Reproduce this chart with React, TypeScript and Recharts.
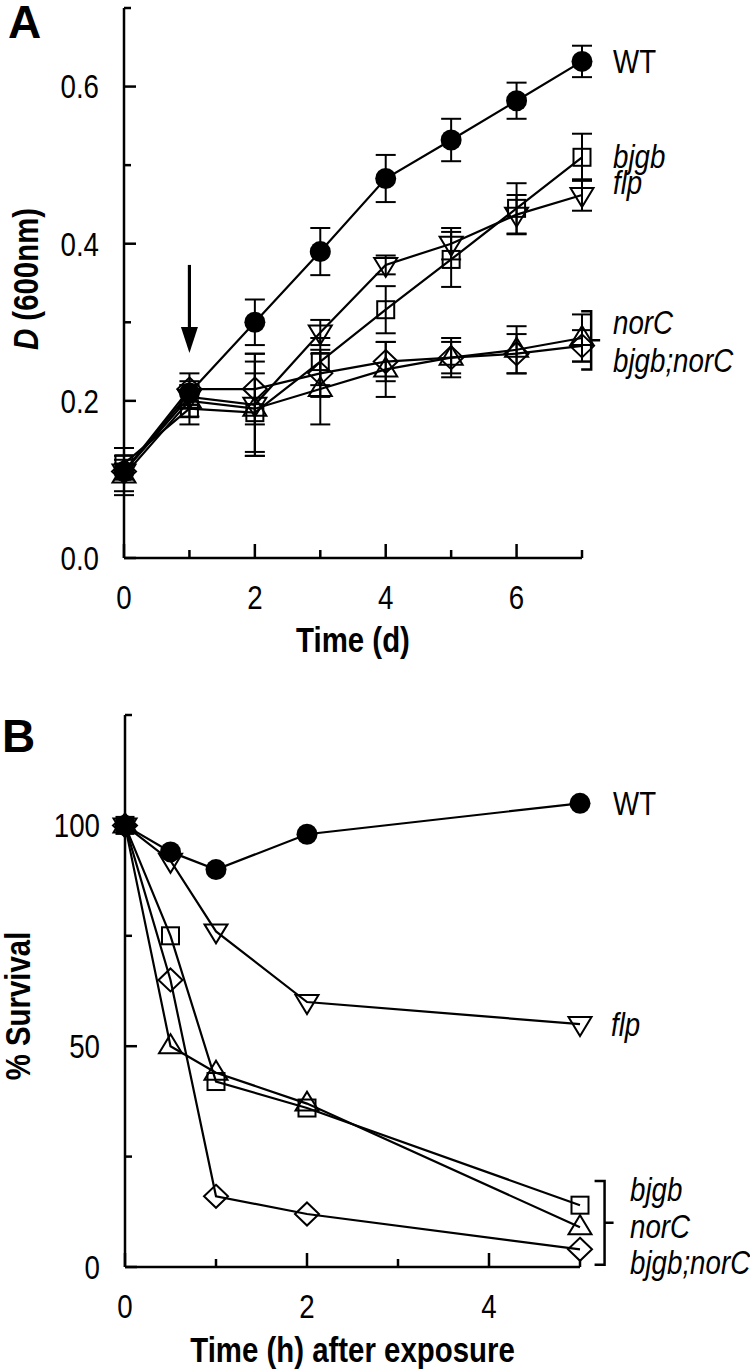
import {
  ErrorBar,
  Label,
  Line,
  LineChart,
  ReferenceDot,
  ReferenceLine,
  XAxis,
  YAxis,
} from 'recharts'

const FONT = "'Liberation Sans', Arial, sans-serif"
const INK = '#000'
const NARROW = 0.84 // the figure uses a condensed face; squeeze Liberation Sans to match

// ---- Panel A: growth, D(600nm) over days ----
const daysA = [0, 1, 2, 3, 4, 5, 6, 7]
const wtA = [0.11, 0.21, 0.3, 0.39, 0.483, 0.532, 0.582, 0.632]
const wtErrA = [0.01, 0.015, 0.029, 0.03, 0.03, 0.027, 0.023, 0.02]
const bjgbA = [0.12, 0.19, 0.185, 0.25, 0.316, 0.38, 0.445, 0.51]
const bjgbErrA = [0.01, 0.02, 0.05, 0.03, 0.03, 0.035, 0.032, 0.03]
const flpA = [0.11, 0.205, 0.195, 0.287, 0.373, 0.4, 0.437, 0.462]
const flpErrA = [0.01, 0.015, 0.065, 0.016, 0.012, 0.02, 0.025, 0.02]
const norCA = [0.105, 0.2, 0.19, 0.215, 0.24, 0.255, 0.265, 0.28]
const norCErrA = [0.02, 0.02, 0.06, 0.045, 0.035, 0.025, 0.03, 0.03]
const dblA = [0.11, 0.215, 0.215, 0.235, 0.25, 0.255, 0.26, 0.27]
const dblErrA = [0.03, 0.02, 0.045, 0.03, 0.025, 0.02, 0.025, 0.02]
const yTicksA = [0, 0.1, 0.2, 0.3, 0.4, 0.5, 0.6, 0.7]
const xTicksA = [0, 1, 2, 3, 4, 5, 6, 7]
// arrow marking the exposure at day 1
const ARROW_X = 1
const ARROW_FROM = 0.373
const ARROW_TO = 0.261

// ---- Panel B: % survival over hours after exposure ----
const hoursB = [0, 0.5, 1, 2, 5]
const wtB = [100, 94, 90, 98, 105]
const flpB = [100, 92, 76, 60, 55]
const bjgbB = [100, 75, 42, 36, 14]
const norCB = [100, 50, 44, 37, 9]
const dblB = [100, 65, 16, 12, 4]
const yTicksB = [0, 25, 50, 75, 100, 125]
const xTicksB = [0, 1, 2, 3, 4, 5]

const rowsA = daysA.map((t, i) => ({
  t,
  wt: wtA[i],
  wtErr: wtErrA[i],
  bjgb: bjgbA[i],
  bjgbErr: bjgbErrA[i],
  flp: flpA[i],
  flpErr: flpErrA[i],
  norC: norCA[i],
  norCErr: norCErrA[i],
  dbl: dblA[i],
  dblErr: dblErrA[i],
}))

const rowsB = hoursB.map((t, i) => ({
  t,
  wt: wtB[i],
  flp: flpB[i],
  bjgb: bjgbB[i],
  norC: norCB[i],
  dbl: dblB[i],
}))

type Shape = 'circle' | 'square' | 'down' | 'up' | 'diamond'

function Marker({ shape, cx, cy }: { shape: Shape; cx?: number; cy?: number }) {
  if (cx == null || cy == null) return null
  const open = { fill: 'none', stroke: INK, strokeWidth: 2 }
  switch (shape) {
    case 'circle':
      return <circle cx={cx} cy={cy} r={10.5} fill={INK} />
    case 'square':
      return <rect x={cx - 8.5} y={cy - 8.5} width={17} height={17} {...open} />
    case 'down':
      return <polygon points={`${cx - 11.5},${cy - 7} ${cx + 11.5},${cy - 7} ${cx},${cy + 12}`} {...open} />
    case 'up':
      return <polygon points={`${cx - 11.5},${cy + 7} ${cx + 11.5},${cy + 7} ${cx},${cy - 12}`} {...open} />
    default:
      return <polygon points={`${cx},${cy - 11.5} ${cx + 12},${cy} ${cx},${cy + 11.5} ${cx - 12},${cy}`} {...open} />
  }
}

const dotOf = (shape: Shape) => (p: any) => (
  <Marker key={`${shape}-${p.index}`} shape={shape} cx={p.cx} cy={p.cy} />
)

// condensed text: real <text>, squeezed horizontally around its anchor
function NText({ x, y, rotate = 0, children, ...rest }: any) {
  return (
    <text
      transform={`translate(${x},${y}) rotate(${rotate}) scale(${NARROW},1)`}
      fontFamily={FONT}
      fill={INK}
      {...rest}
    >
      {children}
    </text>
  )
}

// ticks point inward; every other one is long and labelled
function YTick(props: any) {
  const { x, y, index, payload, fmt } = props
  const major = index % 2 === 0
  return (
    <g>
      <line x1={x} y1={y} x2={x + (major ? 12 : 7)} y2={y} stroke={INK} strokeWidth={2.5} />
      {major && (
        <NText x={x - 25} y={y} dy="0.36em" textAnchor="end" fontSize={33}>
          {fmt(payload.value)}
        </NText>
      )}
    </g>
  )
}

function XTick(props: any) {
  const { x, y, index, payload } = props
  const major = index % 2 === 0
  return (
    <g>
      <line x1={x} y1={y} x2={x} y2={y - (major ? 14 : 8)} stroke={INK} strokeWidth={2.5} />
      {major && (
        <NText x={x} y={y + 51} textAnchor="middle" fontSize={33}>
          {payload.value}
        </NText>
      )}
    </g>
  )
}

function Arrow(props: any) {
  const { x1, y1, x2, y2 } = props
  const head = 26
  return (
    <g>
      <line x1={x1} y1={y1} x2={x2} y2={y2 - head + 2} stroke={INK} strokeWidth={3.2} />
      <polygon points={`${x2 - 8.5},${y2 - head} ${x2 + 8.5},${y2 - head} ${x2},${y2}`} fill={INK} />
    </g>
  )
}

function Bracket(props: any) {
  const { x1, y1, y2 } = props
  const mid = (y1 + y2) / 2
  return (
    <path
      d={`M${x1 - 10},${y1} H${x1} V${y2} H${x1 - 10} M${x1},${mid} H${x1 + 9}`}
      fill="none"
      stroke={INK}
      strokeWidth={2.5}
    />
  )
}

const nameLabel = (value: string, italic: boolean, offset: number) => ({ viewBox }: any) => (
  <NText
    x={viewBox.x + viewBox.width + offset}
    y={viewBox.y + viewBox.height / 2}
    dy="0.36em"
    fontSize={33}
    fontStyle={italic ? 'italic' : 'normal'}
  >
    {value}
  </NText>
)

const axisLine = { stroke: INK, strokeWidth: 2.5 }
const errProps = { stroke: INK, strokeWidth: 2, width: 10 }
const lineProps = {
  stroke: INK,
  strokeWidth: 2.2,
  isAnimationActive: false,
  activeDot: false,
  type: 'linear' as const,
}
const hiddenDot = { r: 0, fill: 'none', stroke: 'none', ifOverflow: 'visible' as const }

function PanelA() {
  return (
    <LineChart width={750} height={680} data={rowsA} margin={{ top: 8, right: 168, bottom: 0, left: 0 }}>
      <XAxis
        dataKey="t"
        type="number"
        domain={[0, 7]}
        ticks={xTicksA}
        interval={0}
        tickSize={0}
        tickMargin={0}
        tickLine={false}
        axisLine={axisLine}
        tick={(p: any) => <XTick {...p} />}
        height={122}
      >
        <Label
          content={({ viewBox }: any) => (
            <NText x={viewBox.x + viewBox.width / 2} y={viewBox.y + 94} textAnchor="middle" fontWeight="bold" fontSize={35}>
              Time (d)
            </NText>
          )}
        />
      </XAxis>
      <YAxis
        type="number"
        domain={[0, 0.7]}
        ticks={yTicksA}
        interval={0}
        tickSize={0}
        tickMargin={0}
        tickLine={false}
        axisLine={axisLine}
        width={124}
        tick={(p: any) => <YTick {...p} fmt={(v: number) => v.toFixed(1)} />}
      >
        <Label
          content={({ viewBox }: any) => (
            <NText
              x={viewBox.x + 38}
              y={viewBox.y + viewBox.height / 2 - 4}
              rotate={-90}
              textAnchor="middle"
              fontWeight="bold"
              fontSize={35}
            >
              <tspan fontStyle="italic">D</tspan> (600nm)
            </NText>
          )}
        />
        <Label
          content={() => (
            <text x={8} y={38} fontFamily={FONT} fontWeight="bold" fontSize={46} fill={INK}>
              A
            </text>
          )}
        />
      </YAxis>

      <ReferenceLine
        segment={[
          { x: ARROW_X, y: ARROW_FROM },
          { x: ARROW_X, y: ARROW_TO },
        ]}
        shape={Arrow}
      />

      <Line dataKey="dbl" {...lineProps} dot={dotOf('diamond')}>
        <ErrorBar dataKey="dblErr" direction="y" {...errProps} />
      </Line>
      <Line dataKey="norC" {...lineProps} dot={dotOf('up')}>
        <ErrorBar dataKey="norCErr" direction="y" {...errProps} />
      </Line>
      <Line dataKey="flp" {...lineProps} dot={dotOf('down')}>
        <ErrorBar dataKey="flpErr" direction="y" {...errProps} />
      </Line>
      <Line dataKey="bjgb" {...lineProps} dot={dotOf('square')}>
        <ErrorBar dataKey="bjgbErr" direction="y" {...errProps} />
      </Line>
      <Line dataKey="wt" {...lineProps} dot={dotOf('circle')}>
        <ErrorBar dataKey="wtErr" direction="y" {...errProps} />
      </Line>

      <ReferenceLine
        segment={[
          { x: 7.14, y: 0.314 },
          { x: 7.14, y: 0.24 },
        ]}
        ifOverflow="visible"
        shape={Bracket}
      />
      <ReferenceDot x={7} y={0.632} {...hiddenDot} label={nameLabel('WT', false, 31)} />
      <ReferenceDot x={7} y={0.511} {...hiddenDot} label={nameLabel('bjgb', true, 31)} />
      <ReferenceDot x={7} y={0.479} {...hiddenDot} label={nameLabel('flp', true, 31)} />
      <ReferenceDot x={7} y={0.3} {...hiddenDot} label={nameLabel('norC', true, 31)} />
      <ReferenceDot x={7} y={0.252} {...hiddenDot} label={nameLabel('bjgb;norC', true, 31)} />
    </LineChart>
  )
}

function PanelB() {
  return (
    <LineChart width={750} height={689} data={rowsB} margin={{ top: 35, right: 170, bottom: 0, left: 0 }}>
      <XAxis
        dataKey="t"
        type="number"
        domain={[0, 5]}
        ticks={xTicksB}
        interval={0}
        tickSize={0}
        tickMargin={0}
        tickLine={false}
        axisLine={axisLine}
        tick={(p: any) => <XTick {...p} />}
        height={102}
      >
        <Label
          content={({ viewBox }: any) => (
            <NText x={viewBox.x + viewBox.width / 2} y={viewBox.y + 95} textAnchor="middle" fontWeight="bold" fontSize={35}>
              Time (h) after exposure
            </NText>
          )}
        />
      </XAxis>
      <YAxis
        type="number"
        domain={[0, 125]}
        ticks={yTicksB}
        interval={0}
        tickSize={0}
        tickMargin={0}
        tickLine={false}
        axisLine={axisLine}
        width={125}
        tick={(p: any) => <YTick {...p} fmt={(v: number) => String(v)} />}
      >
        <Label
          content={({ viewBox }: any) => (
            <NText
              x={viewBox.x + 30}
              y={viewBox.y + viewBox.height / 2 + 15}
              rotate={-90}
              textAnchor="middle"
              fontWeight="bold"
              fontSize={35}
            >
              % Survival
            </NText>
          )}
        />
        <Label
          content={() => (
            <text x={2} y={72} fontFamily={FONT} fontWeight="bold" fontSize={46} fill={INK}>
              B
            </text>
          )}
        />
      </YAxis>

      <Line dataKey="dbl" {...lineProps} dot={dotOf('diamond')} />
      <Line dataKey="norC" {...lineProps} dot={dotOf('up')} />
      <Line dataKey="bjgb" {...lineProps} dot={dotOf('square')} />
      <Line dataKey="flp" {...lineProps} dot={dotOf('down')} />
      <Line dataKey="wt" {...lineProps} dot={dotOf('circle')} />

      <ReferenceLine
        segment={[
          { x: 5.27, y: 19.5 },
          { x: 5.27, y: 0.5 },
        ]}
        ifOverflow="visible"
        shape={Bracket}
      />
      <ReferenceDot x={5} y={105} {...hiddenDot} label={nameLabel('WT', false, 33)} />
      <ReferenceDot x={5} y={55} {...hiddenDot} label={nameLabel('flp', true, 31)} />
      <ReferenceDot x={5} y={17.6} {...hiddenDot} label={nameLabel('bjgb', true, 50)} />
      <ReferenceDot x={5} y={9.3} {...hiddenDot} label={nameLabel('norC', true, 50)} />
      <ReferenceDot x={5} y={1} {...hiddenDot} label={nameLabel('bjgb;norC', true, 50)} />
    </LineChart>
  )
}

export default function App() {
  return (
    <div style={{ position: 'absolute', left: 0, top: 0, width: 750, height: 1369, background: '#fff' }}>
      <PanelA />
      <PanelB />
    </div>
  )
}
